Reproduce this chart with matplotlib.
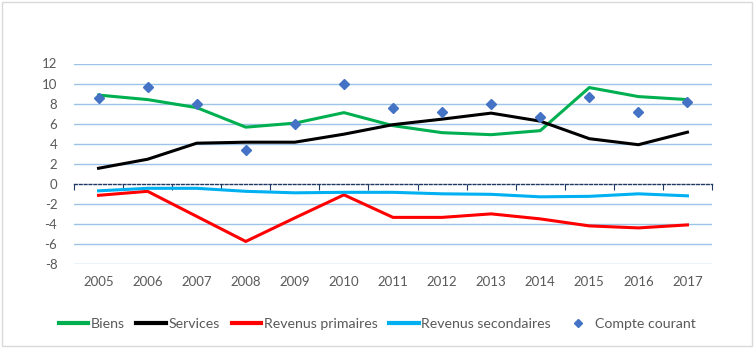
import matplotlib
matplotlib.use("Agg")
import matplotlib.pyplot as plt
from matplotlib.lines import Line2D
from matplotlib.patches import Rectangle

years = list(range(2005, 2018))
biens = [8.85, 8.4, 7.6, 5.65, 6.05, 7.1, 5.8, 5.1, 4.9, 5.3, 9.6, 8.7, 8.4]
services = [1.55, 2.45, 4.05, 4.15, 4.15, 4.95, 5.9, 6.45, 7.05, 6.25, 4.5, 3.9, 5.15]
revenus_primaires = [-1.15, -0.75, -3.25, -5.75, -3.4, -1.1, -3.35, -3.35, -3.0, -3.5, -4.2, -4.4, -4.1]
revenus_secondaires = [-0.7, -0.45, -0.45, -0.75, -0.9, -0.85, -0.85, -1.0, -1.05, -1.3, -1.25, -1.0, -1.2]
compte_courant = [8.6, 9.7, 8.0, 3.4, 5.95, 10.0, 7.55, 7.2, 7.95, 6.65, 8.65, 7.2, 8.15]

y_ticks = list(range(-8, 13, 2))

LINES = [
    ("Biens", biens, "#00B050"),
    ("Services", services, "#000000"),
    ("Revenus primaires", revenus_primaires, "#FF0000"),
    ("Revenus secondaires", revenus_secondaires, "#00B0F0"),
]

plt.rcParams["font.family"] = ["Lato", "DejaVu Sans"]
plt.rcParams["axes.unicode_minus"] = False
TEXT = "#595959"

fig = plt.figure(figsize=(7.54, 3.49), dpi=100)
ax = fig.add_axes([74 / 754, 1 - 264 / 349, (712 - 74) / 754, (264 - 63.5) / 349])

for y in y_ticks:
    if y != 0:
        ax.axhline(y, color="#9DC3E6", linewidth=1.0, zorder=0)

for label, vals, color in LINES:
    ax.plot(years, vals, color=color, linewidth=2.2, label=label, zorder=3)
ax.plot(years, compte_courant, linestyle="None", marker="D", markersize=5.5,
        color="#4472C4", label="Compte courant", zorder=4)

ax.set_xlim(years[0] - 0.5, years[-1] + 0.5)
ax.set_ylim(-8, 12)
ax.set_yticks(y_ticks)
ax.set_xticks(years)
ax.tick_params(axis="both", length=0, labelsize=9.5, labelcolor=TEXT)
ax.tick_params(axis="x", pad=9)
ax.tick_params(axis="y", pad=12)
for side in ["top", "right", "left", "bottom"]:
    ax.spines[side].set_visible(False)

# horizontal axis crossing at zero: dashed line with category tick marks
zero_pos = (0 - (-8)) / 20
sec = ax.secondary_xaxis(zero_pos)
sec.set_xticks([y - 0.5 for y in years] + [years[-1] + 0.5])
sec.tick_params(axis="x", direction="out", length=4, color="#1F3864", width=0.8,
                labelbottom=False, labeltop=False)
sec.spines["bottom"].set_linestyle((0, (2, 1.5)))
sec.spines["bottom"].set_color("#1F3864")
sec.spines["bottom"].set_linewidth(1.0)

handles = [Line2D([], [], color=c, linewidth=3) for _, _, c in LINES]
handles.append(Line2D([], [], linestyle="None", marker="D", markersize=4.5, color="#4472C4"))
labels = [l for l, _, _ in LINES] + ["Compte courant"]
leg = fig.legend(handles, labels, loc="center", bbox_to_anchor=(0.5, 1 - 324 / 349),
                 ncol=5, frameon=False, fontsize=10.2, handlelength=2.1,
                 handletextpad=0.15, columnspacing=0.85)
for t in leg.get_texts():
    t.set_color(TEXT)

fig.patches.append(Rectangle((2 / 754, 3 / 349), 750 / 754, 344 / 349, transform=fig.transFigure,
                             fill=False, edgecolor="#D9D9D9", linewidth=1.0))

fig.savefig("out.png", dpi=100)
